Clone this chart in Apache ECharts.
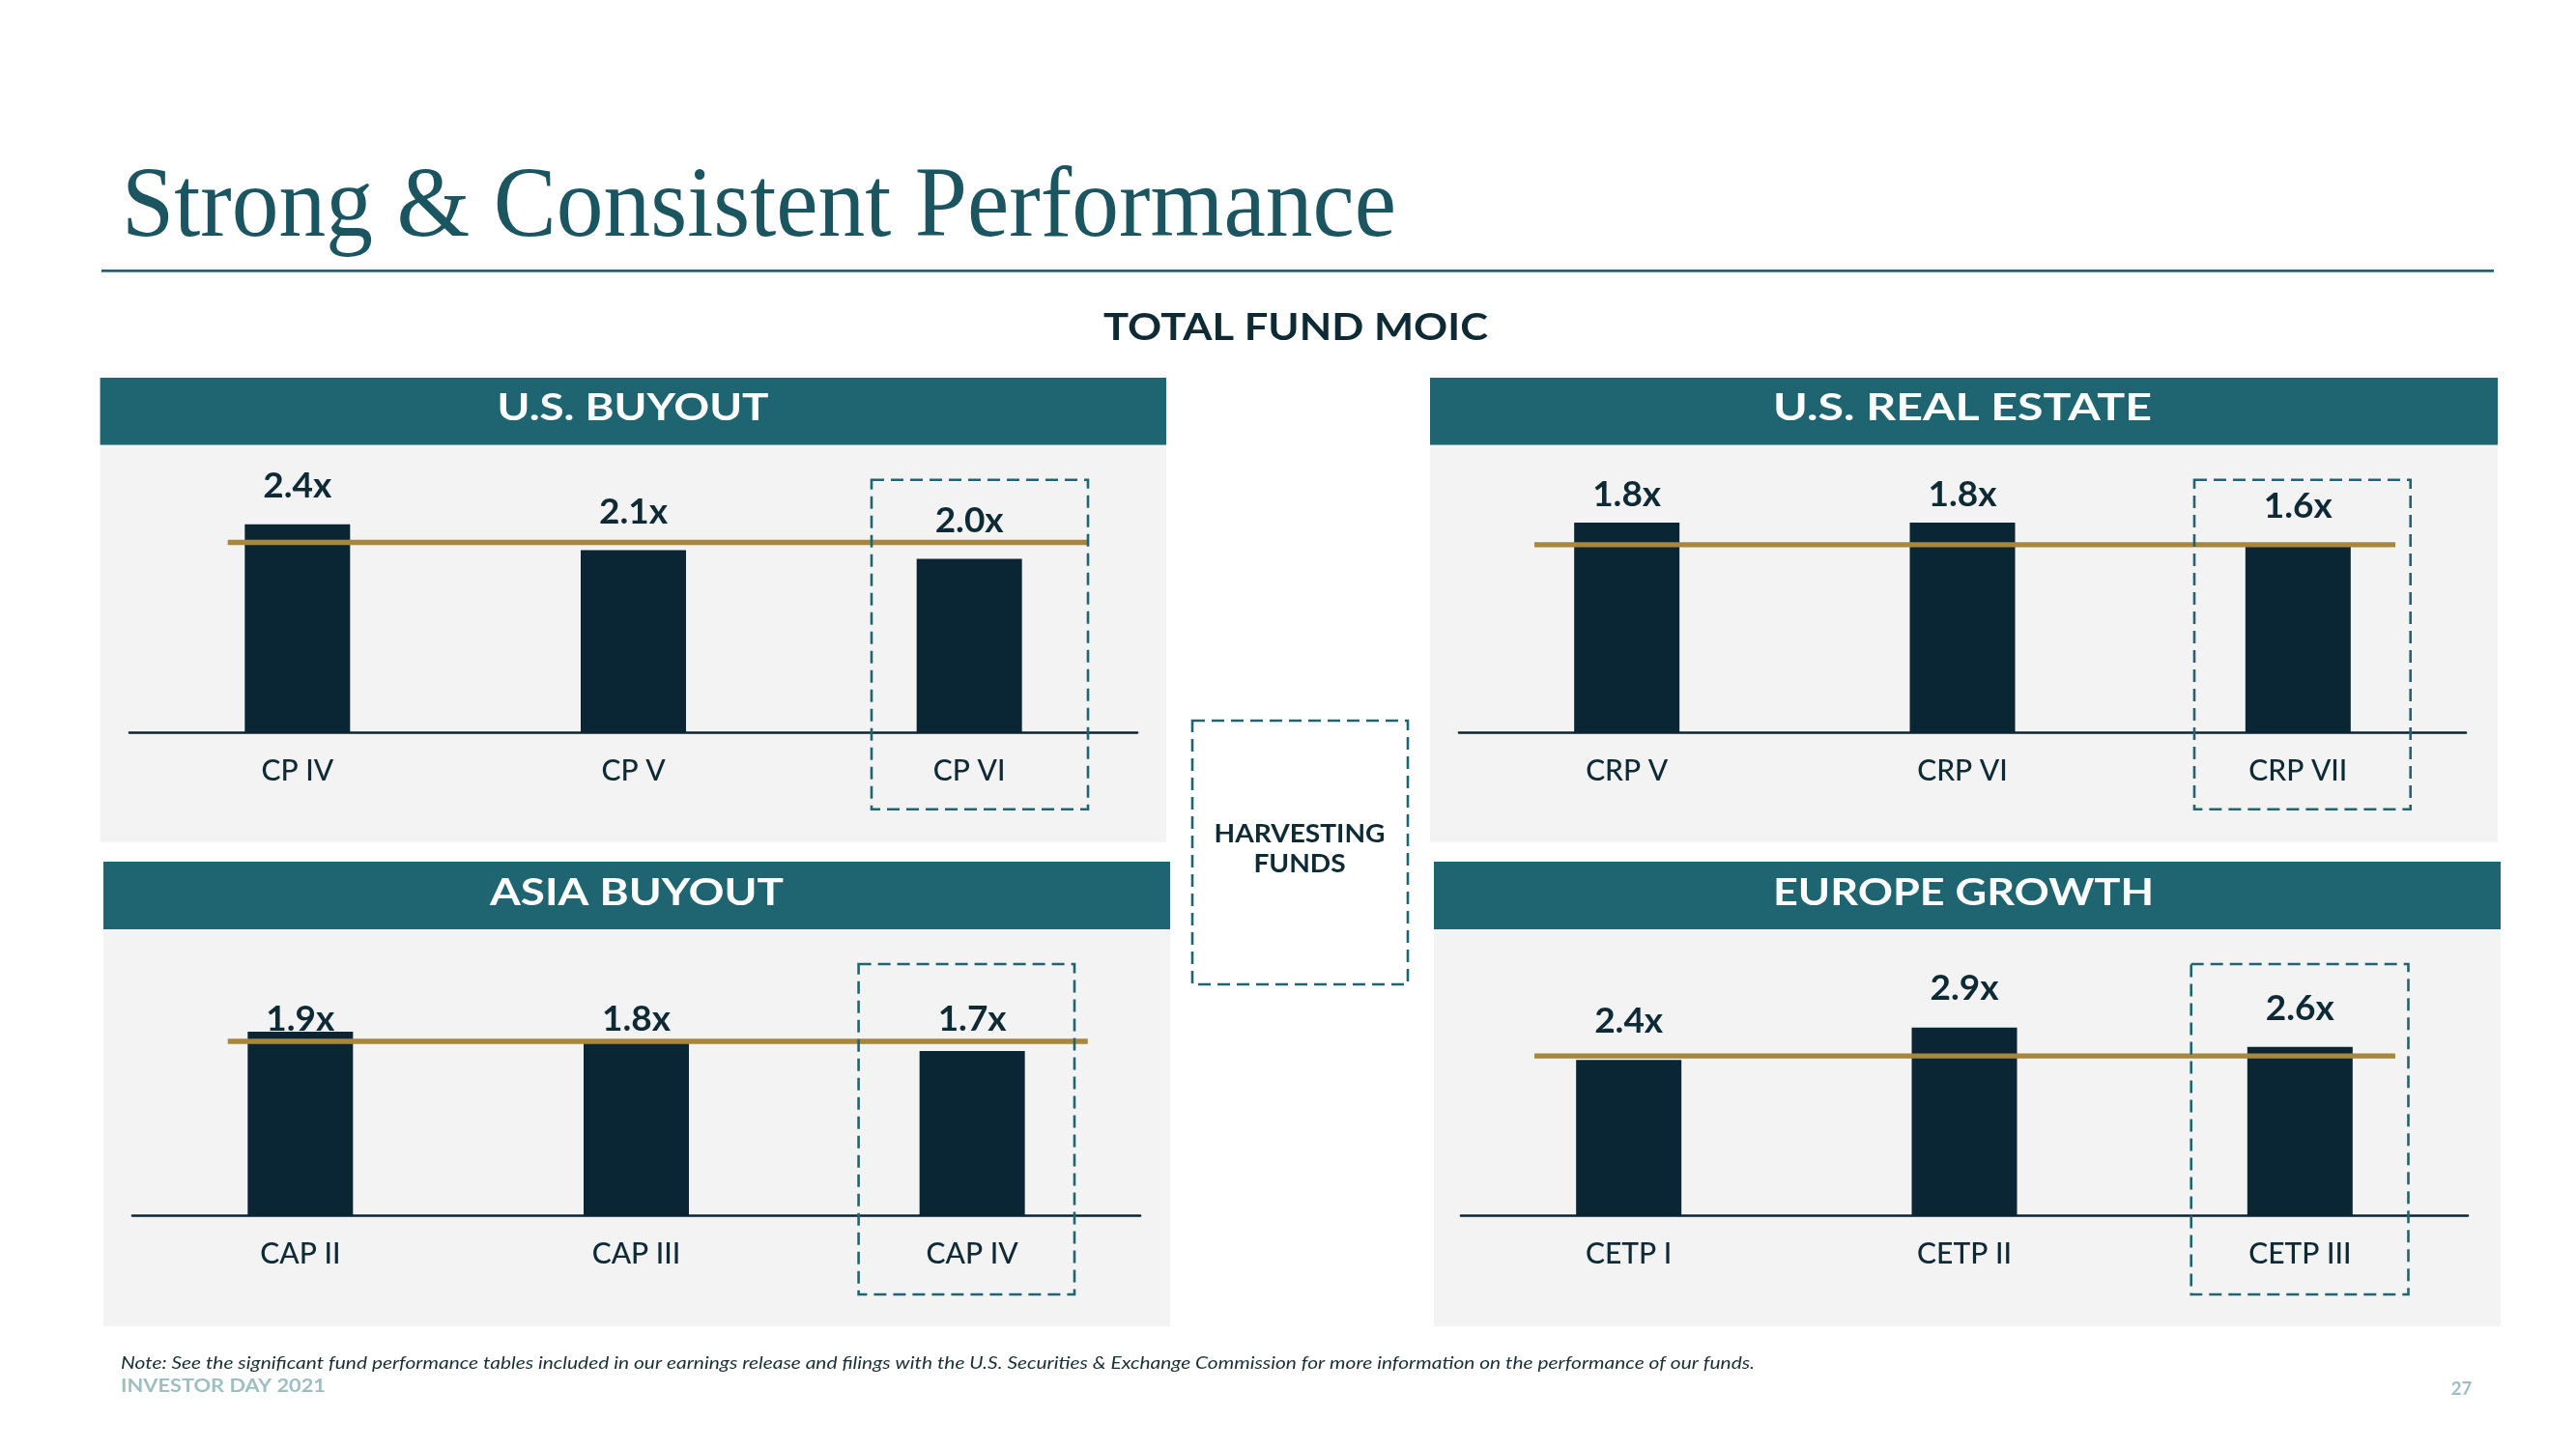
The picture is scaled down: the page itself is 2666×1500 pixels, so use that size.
<!DOCTYPE html>
<html>
<head>
<meta charset="utf-8">
<script src="https://cdn.jsdelivr.net/npm/echarts@6/dist/echarts.min.js"></script>
<style>
html,body{margin:0;padding:0;background:#ffffff;}
#c{width:2666px;height:1500px;}
</style>
</head>
<body>
<div id="c"></div>
<script>
// ---------- DATA ----------
const usBuyoutFunds = ['CP IV', 'CP V', 'CP VI'];
const usBuyoutMoic = [2.4, 2.1, 2.0];
const usBuyoutRefLine = 2.19;

const usRealEstateFunds = ['CRP V', 'CRP VI', 'CRP VII'];
const usRealEstateMoic = [1.8, 1.8, 1.6];
const usRealEstateRefLine = 1.61;

const asiaBuyoutFunds = ['CAP II', 'CAP III', 'CAP IV'];
const asiaBuyoutMoic = [1.9, 1.8, 1.7];
const asiaBuyoutRefLine = 1.80;

const europeGrowthFunds = ['CETP I', 'CETP II', 'CETP III'];
const europeGrowthMoic = [2.4, 2.9, 2.6];
const europeGrowthRefLine = 2.46;

const panelTitles = ['U.S. BUYOUT', 'U.S. REAL ESTATE', 'ASIA BUYOUT', 'EUROPE GROWTH'];
const pageTitle = 'Strong & Consistent Performance';
const chartTitle = 'TOTAL FUND MOIC';
const harvestingText = 'HARVESTING\nFUNDS';
const noteText = 'Note: See the significant fund performance tables included in our earnings release and filings with the U.S. Securities & Exchange Commission for more information on the performance of our funds.';
const footerText = 'INVESTOR DAY 2021';
const pageNumber = '27';

// ---------- STYLE / LAYOUT ----------
const C = {
  teal: '#1e6571', titleTeal: '#1b5560', navy: '#0a2533', text: '#0d2a35',
  gold: '#a8863b', panel: '#f3f3f3', footer: '#9dbfc0'
};
const panels = [
  { funds: usBuyoutFunds, moic: usBuyoutMoic, ref: usBuyoutRefLine, title: panelTitles[0],
    rect: [103.6, 391, 1103.4, 69.7, 411], titleX: 655, titleY: 422.5, titleW: 281,
    grid: { left: 134, width: 1043, top: 488.7, height: 269.7 }, yMax: 3.0,
    refFrom: -0.2075, refTo: 2.353, labelDist: [21.5, 21.5, 21.5], box: [902, 496.7, 224, 341] },
  { funds: usRealEstateFunds, moic: usRealEstateMoic, ref: usRealEstateRefLine, title: panelTitles[1],
    rect: [1480, 391, 1105, 69.7, 411], titleX: 2031, titleY: 422.5, titleW: 392,
    grid: { left: 1510, width: 1042, top: 492.5, height: 266.2 }, yMax: 2.2,
    refFrom: -0.2754, refTo: 2.290, labelDist: [10.4, 10.4, 22.4], box: [2271, 496.7, 223.7, 341] },
  { funds: asiaBuyoutFunds, moic: asiaBuyoutMoic, ref: asiaBuyoutRefLine, title: panelTitles[2],
    rect: [107, 892, 1104, 70, 411], titleX: 659, titleY: 924, titleW: 304,
    grid: { left: 137, width: 1043, top: 988, height: 270 }, yMax: 2.7,
    refFrom: -0.216, refTo: 2.344, labelDist: [-5.5, 4.5, 14.5], box: [888.6, 998, 223.4, 342] },
  { funds: europeGrowthFunds, moic: europeGrowthMoic, ref: europeGrowthRefLine, title: panelTitles[3],
    rect: [1484, 892, 1104, 70, 411], titleX: 2032, titleY: 924, titleW: 394,
    grid: { left: 1512, width: 1042, top: 990, height: 268 }, yMax: 4.0,
    refFrom: -0.281, refTo: 2.284, labelDist: [21.7, 21.7, 21.7], box: [2267.7, 998, 224.8, 342] }
];

// ---------- HELPERS ----------
const mctx = document.createElement('canvas').getContext('2d');
function fitScale(str, font, target) {
  if (!target) return 1;
  mctx.font = font;
  const w = Math.max.apply(null, str.split('\n').map(s => mctx.measureText(s).width));
  return w > 0 ? target / w : 1;
}
function textEl(str, x, y, font, color, align, target, extra) {
  const el = {
    type: 'text', x: x, y: y, silent: true, z: 5,
    scaleX: fitScale(str, font, target),
    style: { text: str, font: font, fill: color, align: align, verticalAlign: 'middle',
             textAlign: align, textVerticalAlign: 'middle' }
  };
  if (extra) Object.assign(el.style, extra);
  return el;
}
function dashedRect(x, y, w, h) {
  return { type: 'rect', silent: true, z: 4, shape: { x: x, y: y, width: w, height: h },
    style: { fill: 'none', stroke: C.teal, lineWidth: 2.6, lineDash: [13, 7] } };
}

// ---------- BUILD OPTION ----------
const graphics = [];
graphics.push(textEl(pageTitle, 126, 217, '103px "Liberation Serif"', C.titleTeal, 'left', 1319));
graphics.push({ type: 'rect', silent: true, z: 1, shape: { x: 105, y: 279, width: 2476, height: 2.7 }, style: { fill: C.teal } });
graphics.push(textEl(chartTitle, 1341, 339, 'bold 39px Lato', C.text, 'center', 398));

const grids = [], xAxes = [], yAxes = [], series = [];
panels.forEach((p, i) => {
  const r = p.rect;
  graphics.push({ type: 'rect', silent: true, z: 0, shape: { x: r[0], y: r[1], width: r[2], height: r[3] }, style: { fill: C.teal } });
  graphics.push({ type: 'rect', silent: true, z: 0, shape: { x: r[0], y: r[1] + r[3], width: r[2], height: r[4] }, style: { fill: C.panel } });
  graphics.push(textEl(p.title, p.titleX, p.titleY, 'bold 39px Lato', '#ffffff', 'center', p.titleW));
  graphics.push(dashedRect(p.box[0], p.box[1], p.box[2], p.box[3]));

  grids.push(Object.assign({ containLabel: false }, p.grid));
  xAxes.push({
    type: 'category', gridIndex: i, data: p.funds,
    axisTick: { show: false },
    axisLine: { lineStyle: { color: C.navy, width: 2.6 } },
    axisLabel: { fontFamily: 'Lato', fontWeight: 500, fontSize: 30, color: C.text, margin: 25 }
  });
  xAxes.push({ type: 'value', gridIndex: i, min: -0.5, max: 2.5, show: false });
  yAxes.push({ type: 'value', gridIndex: i, min: 0, max: p.yMax, show: false });

  series.push({
    type: 'bar', xAxisIndex: 2 * i, yAxisIndex: i, barWidth: 109, z: 2,
    itemStyle: { color: C.navy },
    label: {
      show: true, position: 'top', fontFamily: 'Lato', fontWeight: 'bold', fontSize: 37, color: C.text,
      formatter: prm => Number(prm.value).toFixed(1) + 'x'
    },
    data: p.moic.map((v, k) => ({ value: v, label: { distance: p.labelDist[k] } })),
    animation: false
  });
  series.push({
    type: 'line', xAxisIndex: 2 * i + 1, yAxisIndex: i, z: 3, symbol: 'none', showSymbol: false,
    silent: true, animation: false,
    lineStyle: { color: C.gold, width: 5.3 },
    data: [[p.refFrom, p.ref], [p.refTo, p.ref]]
  });
});

graphics.push(dashedRect(1234, 746, 223, 273));
graphics.push(textEl(harvestingText, 1345, 879, 'bold 27px Lato', C.text, 'center', 177, { lineHeight: 31 }));
graphics.push(textEl(noteText, 125, 1411, 'italic 17.5px Lato', '#1a2e35', 'left', 1691));
graphics.push(textEl(footerText, 125, 1435, 'bold 19.5px Lato', C.footer, 'left', 212));
graphics.push(textEl(pageNumber, 2547.5, 1438, 'bold 18.5px Lato', C.footer, 'center', 21.6));

const chart = echarts.init(document.getElementById('c'), null, { renderer: 'canvas', width: 2666, height: 1500 });
chart.setOption({
  backgroundColor: '#ffffff',
  animation: false,
  grid: grids,
  xAxis: xAxes,
  yAxis: yAxes,
  series: series,
  graphic: { elements: graphics }
});
</script>
</body>
</html>
